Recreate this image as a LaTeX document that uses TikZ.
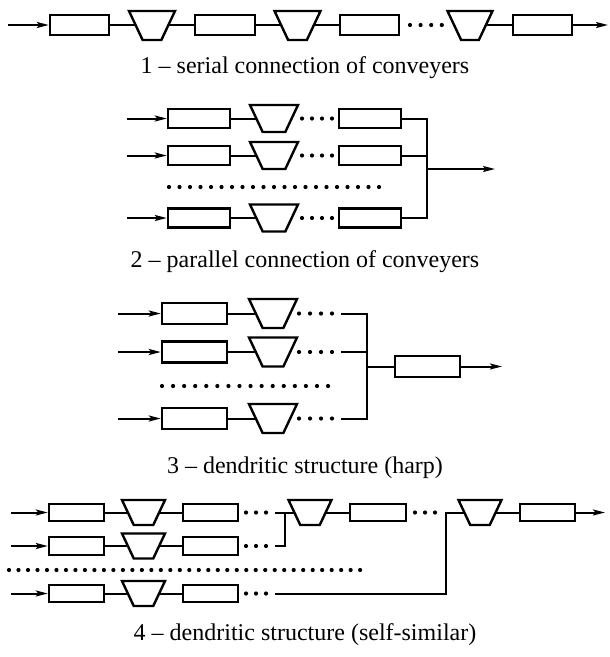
\documentclass[tikz,border=0pt]{standalone}
\usepackage{fontspec}
\setmainfont{Liberation Serif}
\usetikzlibrary{arrows.meta}

\tikzset{
  blk/.style={draw, line width=2.4pt, inner sep=0pt, minimum width=#1},
  blk/.default=60pt,
  fline/.style={line width=2.4pt, line join=miter},
  link/.style={line width=2pt},
  feed/.style={link, -{Stealth[length=12pt,width=6pt,inset=2.5pt]}},
  caption/.style={font=\fontsize{24}{28}\selectfont, inner sep=0pt},
  r1/.style={minimum height=20pt},
  r4/.style={minimum height=17.5pt},
}
% row of dots: y, first x, step, count
\newcommand{\dotrow}[4]{%
  \foreach \k in {1,...,#4}{\fill ({#2+(\k-1)*#3},#1) circle (2.1pt);}}
% hopper (inverted trapezoid): name, x, y, top width, height
\newcommand{\funnel}[5]{%
  \pgfmathsetmacro\fslant{0.47*#5}%
  \node[minimum width=#4, minimum height=#5, inner sep=0pt, outer sep=0pt] (#1) at (#2,#3) {};
  \draw[fline] (#1.north west) -- (#1.north east)
     -- ([xshift=-\fslant pt]#1.south east)
     -- ([xshift=\fslant pt]#1.south west) -- cycle;
  \coordinate (#1-l) at ([xshift=0.5*\fslant pt]#1.west);
  \coordinate (#1-r) at ([xshift=-0.5*\fslant pt]#1.east);
}

\begin{document}
\begin{tikzpicture}[x=1pt,y=-1pt]
\useasboundingbox (0,0) rectangle (610,657);

% ---------- 1: serial connection ----------
\coordinate (s1in) at (8,25);
\node[blk=59pt, r1] (b11) at (79.5,25) {};
\funnel{t11}{152}{25.5}{46pt}{29pt}
\node[blk=60pt, r1] (b12) at (225,25) {};
\funnel{t12}{297.5}{25.5}{46pt}{29pt}
\node[blk=59pt, r1] (b13) at (369.5,25) {};
\funnel{t13}{470}{25.5}{45pt}{29pt}
\node[blk=59pt, r1] (b14) at (542.5,25) {};
\coordinate (s1out) at (608,25);
\draw[feed] (s1in) -- (b11);
\draw[link] (b11) -- (t11-l |- b11);
\draw[link] (t11-r |- b12) -- (b12);
\draw[link] (b12) -- (t12-l |- b12);
\draw[link] (t12-r |- b13) -- (b13);
\draw[link] (t13-r |- b14) -- (b14);
\draw[feed] (b14) -- (s1out);
\dotrow{25}{410}{10.6}{4}
\node[caption] (c1) at (305,68) {1 \textendash\ serial connection of conveyers};

% ---------- 2: parallel connection ----------
\coordinate (j2) at (427,169);
\coordinate (p2out) at (495,169);
\foreach \n/\y in {a/118.5, b/155.5, c/218}{
  \coordinate (p2\n in) at (127,\y);
  \node[blk=62pt, minimum height=19pt] (b2\n) at (199,\y) {};
  \funnel{t2\n}{274}{\y}{48pt}{27pt}
  \node[blk=62pt, minimum height=19pt] (e2\n) at (370,\y) {};
  \draw[feed] (p2\n in) -- (b2\n);
  \draw[link] (b2\n) -- (t2\n-l);
  \draw[link] (e2\n.east) -| (j2);
  \dotrow{\y}{302}{10}{4}
}
\draw[feed] (j2) -- (p2out);
\dotrow{187}{169}{10.5}{21}
\node[caption] (c2) at (305,262) {2 \textendash\ parallel connection of conveyers};

% ---------- 3: dendritic structure (harp) ----------
\coordinate (j3) at (367,366.5);
\foreach \n/\y in {a/313.5, b/352, c/418.5}{
  \coordinate (h3\n in) at (118,\y);
  \node[blk=65pt, minimum height=21pt] (b3\n) at (194.5,\y) {};
  \funnel{t3\n}{273}{\y}{48pt}{29pt}
  \coordinate (h3\n out) at (341,\y);
  \draw[feed] (h3\n in) -- (b3\n);
  \draw[link] (b3\n) -- (t3\n-l);
  \draw[link] (h3\n out) -| (j3);
  \dotrow{\y}{299}{11}{4}
}
\node[blk=65pt, minimum height=21pt] (b3o) at (427.5,366.5) {};
\coordinate (h3end) at (502,366.5);
\draw[link] (j3) -- (b3o);
\draw[feed] (b3o) -- (h3end);
\dotrow{386}{162}{11.07}{16}
\node[caption] (c3) at (305,468) {3 \textendash\ dendritic structure (harp)};

% ---------- 4: dendritic structure (self-similar) ----------
\foreach \n/\y in {a/512.5, b/546, c/593.5}{
  \coordinate (d4\n in) at (11,\y);
  \node[blk=55pt, r4] (b4\n) at (76.5,\y) {};
  \funnel{t4\n}{143.5}{\y}{43pt}{25pt}
  \node[blk=55pt, r4] (e4\n) at (210.5,\y) {};
  \coordinate (d4\n out) at (275,\y);
  \draw[feed] (d4\n in) -- (b4\n);
  \draw[link] (b4\n) -- (t4\n-l);
  \draw[link] (t4\n-r) -- (e4\n);
  \dotrow{\y}{246}{10}{3}
}
\funnel{t4x}{310}{512.5}{43pt}{25pt}
\node[blk=56pt, r4] (b4x) at (378,512.5) {};
\funnel{t4y}{480}{512.5}{43pt}{25pt}
\node[blk=55pt, r4] (b4y) at (547.5,512.5) {};
\coordinate (j4a) at (285,512.5);
\coordinate (j4b) at (446,512.5);
\coordinate (d4end) at (605,512.5);
\draw[link] (d4aout) -- (t4x-l);
\draw[link] (d4bout) -| (j4a);
\draw[link] (t4x-r) -- (b4x);
\draw[link] (d4cout) -| (j4b) -- (t4y-l);
\draw[link] (t4y-r) -- (b4y);
\draw[feed] (b4y) -- (d4end);
\dotrow{512.5}{415}{10}{3}
\dotrow{570}{9}{9.49}{38}
\node[caption] (c4) at (305,635) {4 \textendash\ dendritic structure (self-similar)};
\end{tikzpicture}
\end{document}
